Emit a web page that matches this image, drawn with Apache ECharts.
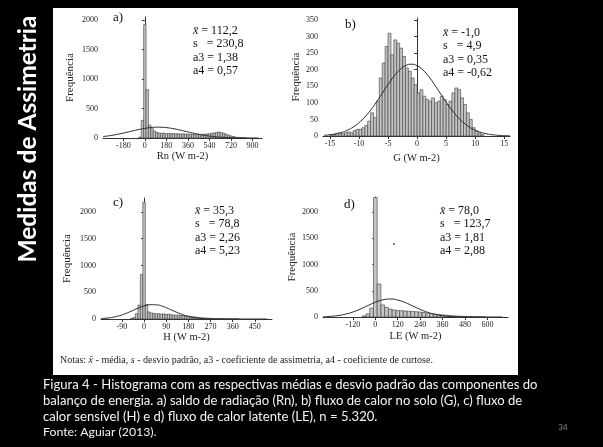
<!DOCTYPE html>
<html><head><meta charset="utf-8">
<script src="https://cdn.jsdelivr.net/npm/echarts@6/dist/echarts.min.js"></script>
<style>html,body{margin:0;padding:0;background:#000}#c{width:603px;height:447px}</style>
</head><body><div id="c"></div>
<script>
// ---------- a) Rn ----------
const aBinWidth = 20;
const aBinCenters = [-40,-20,0,20,40,60,80,100,120,140,160,180,200,220,240,260,280,300,320,340,360,380,400,420,440,460,480,500,520,540,560,580,600,620,640,660,680,700,720,740,760,780,800,820,840];
const aCounts = [15,300,1920,820,220,170,120,95,85,80,82,75,78,72,74,70,72,68,70,66,68,64,62,65,60,62,60,65,68,72,80,85,95,100,90,80,65,50,35,25,15,10,6,3,2];
const aCurveX = [-350,-300,-250,-200,-150,-100,-50,0,50,100,150,200,250,300,350,400,450,500,550,600,650,700,750,800,850,900,950];
const aCurveY = [25,37,54,74,97,121,144,163,177,184,181,171,154,132,108,85,63,45,30,20,12,7,4,2,1,0.5,0.3];
const aXTicks = [-180,0,180,360,540,720,900];
const aYTicks = [0,500,1000,1500,2000];
const aStats = ['112,2','230,8','1,38','0,57'];

// ---------- b) G ----------
const bBinWidth = 0.5;
const bBinCenters = [-14.75,-14.25,-13.75,-13.25,-12.75,-12.25,-11.75,-11.25,-10.75,-10.25,-9.75,-9.25,-8.75,-8.25,-7.75,-7.25,-6.75,-6.25,-5.75,-5.25,-4.75,-4.25,-3.75,-3.25,-2.75,-2.25,-1.75,-1.25,-0.75,-0.25,0.25,0.75,1.25,1.75,2.25,2.75,3.25,3.75,4.25,4.75,5.25,5.75,6.25,6.75,7.25,7.75,8.25,8.75,9.25,9.75,10.25,10.75,11.25];
const bCounts = [3,5,8,9,7,10,12,10,16,20,20,25,32,45,70,55,105,175,220,270,310,245,290,280,265,240,205,195,175,155,130,140,120,110,105,115,100,105,120,110,95,105,130,145,140,115,95,70,50,25,15,8,4];
const bCurveX = [-16,-15,-14,-13,-12,-11,-10,-9,-8,-7,-6,-5,-4,-3,-2,-1,0,1,2,3,4,5,6,7,8,9,10,11,12,13,14,15,16];
const bCurveY = [2,3.7,6.4,10.8,17.4,27,40.1,57.1,78.1,102.3,128.7,155.2,179.6,199.3,212.1,216.6,212.1,199.3,179.6,155.2,128.7,102.3,78.1,57.1,40.1,27,17.4,10.8,6.4,3.7,2,1,0.5];
const bXTicks = [-15,-10,-5,0,5,10,15];
const bYTicks = [0,50,100,150,200,250,300,350];
const bStats = ['-1,0','4,9','0,35','-0,62'];

// ---------- c) H ----------
const cBinWidth = 10;
const cBinCenters = [-50,-40,-30,-20,-10,0,10,20,30,40,50,60,70,80,90,100,110,120,130,140,150,160,170,180,190,200,210,220,230,240,250,260,270,280,290,300,310,320,330,340,350,360,370,380];
const cCounts = [10,30,100,260,830,2180,270,130,110,105,95,100,90,95,85,90,80,75,70,72,65,60,55,50,45,40,35,30,25,22,18,15,12,10,8,6,5,4,3,3,2,2,1,1];
const cCurveX = [-175,-150,-125,-100,-75,-50,-25,0,25,50,75,100,125,150,175,200,225,250,275,300,325,350,400,450,500];
const cCurveY = [7.6,17,34,61.7,101.1,149.9,201,243.6,267,264.7,237.2,192.3,140.9,93.3,55.9,30.3,14.8,6.6,2.6,1.0,0.35,0.1,0,0,0];
const cXTicks = [-90,0,90,180,270,360,450];
const cYTicks = [0,500,1000,1500,2000];
const cStats = ['35,3','78,8','2,26','5,23'];

// ---------- d) LE ----------
const dBinWidth = 20;
const dBinCenters = [-60,-40,-20,0,20,40,60,80,100,120,140,160,180,200,220,240,260,280,300,320,340,360,380,400,420,440,460,480,500,520,540,560,580];
const dCounts = [20,60,170,2280,630,230,180,150,135,125,120,115,110,105,100,95,85,75,65,55,48,40,34,28,22,18,14,10,7,5,3,2,1];
const dCurveX = [-280,-240,-200,-160,-120,-80,-40,0,40,80,120,160,200,240,280,320,360,400,440,480,520,560,600,640,680];
const dCurveY = [5.2,12.6,27.5,53.9,95.3,151.8,217.7,281.2,327.3,343.1,323.9,275.4,211,145.5,90.5,50.6,25.5,11.6,4.7,1.7,0.6,0.2,0.05,0,0];
const dXTicks = [-120,0,120,240,360,480,600];
const dYTicks = [0,500,1000,1500,2000];
const dStats = ['78,0','123,7','1,81','2,88'];

const captionLines = [
  'Figura 4 - Histograma com as respectivas médias e desvio padrão das componentes do',
  'balanço de energia. a) saldo de radiação (Rn), b) fluxo de calor no solo (G), c) fluxo de',
  'calor sensível (H) e d) fluxo de calor latente (LE), n = 5.320.',
  'Fonte: Aguiar (2013).'
];

// ---------- helpers ----------
const SERIF = "'Liberation Serif', 'DejaVu Serif', serif";
const measureCtx = document.createElement('canvas').getContext('2d');
function fitSize(text, weight, family, target){
  measureCtx.font = weight + ' 100px ' + family;
  return 100 * target / measureCtx.measureText(text).width;
}
const plain = v => String(v);

const panels = [
  {grid:{left:103, top:17, width:159, height:121}, xr:[-350,980], yr:[0,2050], bw:aBinWidth, bins:aBinCenters, counts:aCounts, cx:aCurveX, cy:aCurveY, xt:aXTicks, yt:aYTicks, xname:'Rn (W m-2)', xgap:8, ygap:27},
  {grid:{left:323, top:18, width:187, height:118}, xr:[-16.2,16], yr:[0,356], bw:bBinWidth, bins:bBinCenters, counts:bCounts, cx:bCurveX, cy:bCurveY, xt:bXTicks, yt:bYTicks, xname:'G (W m-2)', xgap:17, ygap:18},
  {grid:{left:101, top:198, width:171, height:121}, xr:[-175,520], yr:[0,2260], bw:cBinWidth, bins:cBinCenters, counts:cCounts, cx:cCurveX, cy:cCurveY, xt:cXTicks, yt:cYTicks, xname:'H (W m-2)', xgap:13, ygap:28},
  {grid:{left:323, top:197, width:185, height:120}, xr:[-280,710], yr:[0,2290], bw:dBinWidth, bins:dBinCenters, counts:dCounts, cx:dCurveX, cy:dCurveY, xt:dXTicks, yt:dYTicks, xname:'LE (W m-2)', xgap:14, ygap:19}
];

const axisColor = '#333';
const grids = [], xAxes = [], yAxes = [], series = [];
panels.forEach((p, i) => {
  grids.push(Object.assign({containLabel:false}, p.grid));
  xAxes.push({
    type:'value', gridIndex:i, min:p.xr[0], max:p.xr[1],
    axisLine:{show:true, onZero:false, lineStyle:{color:axisColor, width:1}},
    axisTick:{show:true, length:3, customValues:p.xt, lineStyle:{color:axisColor}},
    axisLabel:{customValues:p.xt, formatter:plain, fontFamily:SERIF, fontSize:8, color:'#222', margin:4},
    splitLine:{show:false},
    name:p.xname, nameLocation:'middle', nameGap:p.xgap,
    nameTextStyle:{fontFamily:SERIF, fontSize:10.5, color:'#222'}
  });
  yAxes.push({
    type:'value', gridIndex:i, min:p.yr[0], max:p.yr[1],
    axisLine:{show:true, lineStyle:{color:axisColor, width:1}},
    axisTick:{show:true, length:3, customValues:p.yt, lineStyle:{color:axisColor}},
    axisLabel:{customValues:p.yt, formatter:plain, fontFamily:SERIF, fontSize:8, color:'#222', margin:5},
    splitLine:{show:false},
    name:'Frequência', nameLocation:'middle', nameRotate:90, nameGap:p.ygap,
    nameTextStyle:{fontFamily:SERIF, fontSize:11, color:'#222'}
  });
  const bw = p.bw;
  series.push({
    type:'custom', xAxisIndex:i, yAxisIndex:i,
    data:p.bins.map((c, k) => [c, p.counts[k]]),
    encode:{x:0, y:1},
    renderItem:function(params, api){
      const x = api.value(0), y = api.value(1);
      const p0 = api.coord([x - bw/2, y]);
      const p1 = api.coord([x + bw/2, 0]);
      return {type:'rect', shape:{x:p0[0], y:p0[1], width:p1[0]-p0[0], height:p1[1]-p0[1]},
              style:{fill:'#c4c4c4', stroke:'#3c3c3c', lineWidth:0.6}};
    },
    z:2
  });
  series.push({
    type:'line', xAxisIndex:i, yAxisIndex:i, smooth:true, showSymbol:false, symbol:'none',
    data:p.cx.map((x, k) => [x, p.cy[k]]),
    lineStyle:{color:'#2a2a2a', width:1}, z:3
  });
});

// ---------- text graphics ----------
const graphics = [];
graphics.push({type:'rect', shape:{x:53, y:8, width:465, height:367}, style:{fill:'#ffffff'}, z:-10, silent:true});

const titleText = 'Medidas de Assimetria';
const titleSize = fitSize(titleText, 'bold', 'Lato', 247);
graphics.push({type:'text', x:28, y:139, rotation:Math.PI/2, z:10,
  style:{text:titleText, x:0, y:0, fill:'#ffffff', font:'bold ' + titleSize.toFixed(2) + 'px Lato', textAlign:'center', textVerticalAlign:'middle'}});

const letters = [['a)',113,18],['b)',345,25],['c)',113,203],['d)',344,205]];
letters.forEach(l => graphics.push({type:'text', x:l[1], y:l[2], z:10,
  style:{text:l[0], x:0, y:0, fill:'#111', font:'13px ' + SERIF, textAlign:'left', textVerticalAlign:'middle'}}));

const statsSets = [[aStats,193,31],[bStats,443,33],[cStats,195,211],[dStats,440,211]];
statsSets.forEach(s => {
  const vals = s[0];
  const lines = ['{i|x̄} = ' + vals[0], 's   = ' + vals[1], 'a3 = ' + vals[2], 'a4 = ' + vals[3]];
  lines.forEach((t, k) => graphics.push({type:'text', x:s[1], y:s[2] + k*13.3, z:10,
    style:{text:t, x:0, y:0, fill:'#111', font:'12px ' + SERIF, textAlign:'left', textVerticalAlign:'middle',
      rich:{i:{fontStyle:'italic', fontSize:12, fontFamily:SERIF, fill:'#111'}}}}));
});

const notas = 'Notas: {i|x̄} - média, {i|s} - desvio padrão, a3 - coeficiente de assimetria, a4 - coeficiente de curtose.';
graphics.push({type:'text', x:60, y:360, z:10,
  style:{text:notas, x:0, y:0, fill:'#222', font:'10px ' + SERIF, textAlign:'left', textVerticalAlign:'middle',
    rich:{i:{fontStyle:'italic', fontSize:10, fontFamily:SERIF, fill:'#222'}}}});

const capSize = fitSize(captionLines[0], 'normal', 'Lato', 495);
const capY = [385, 401, 417, 432];
captionLines.forEach((t, k) => graphics.push({type:'text', x:43, y:capY[k], z:10,
  style:{text:t, x:0, y:0, fill:'#f4f4f4', font:(k === 3 ? capSize * 0.94 : capSize).toFixed(2) + 'px Lato', textAlign:'left', textVerticalAlign:'middle'}}));

graphics.push({type:'text', x:563, y:427, z:10,
  style:{text:'34', x:0, y:0, fill:'#8a8a8a', font:'8px Lato', textAlign:'center', textVerticalAlign:'middle'}});
graphics.push({type:'circle', shape:{cx:394, cy:244, r:0.9}, style:{fill:'#3040c0'}, z:10, silent:true});

const chart = echarts.init(document.getElementById('c'), null, {renderer:'canvas', width:603, height:447});
chart.setOption({
  backgroundColor:'#000000',
  animation:false,
  grid:grids, xAxis:xAxes, yAxis:yAxes, series:series,
  graphic:{elements:graphics}
});
</script>
</body></html>
